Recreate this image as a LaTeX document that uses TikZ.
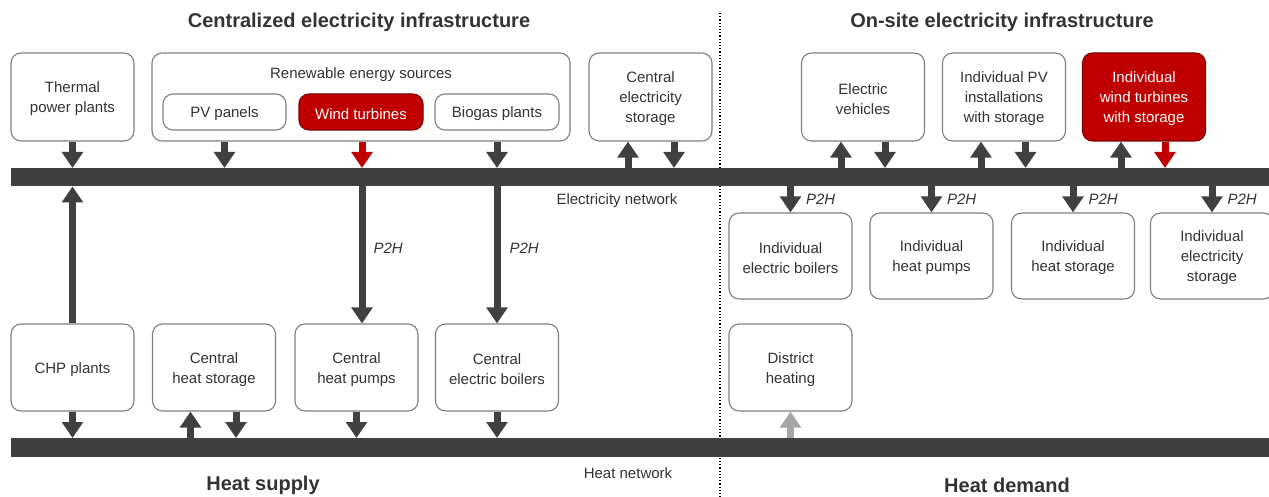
\documentclass[tikz,border=0pt]{standalone}
\usepackage{fontspec}
\setmainfont{Liberation Sans}
\usetikzlibrary{arrows.meta}
\definecolor{dk}{HTML}{404040}
\definecolor{txt}{HTML}{333333}
\definecolor{boxgray}{HTML}{7F7F7F}
\definecolor{redfill}{HTML}{C00000}
\definecolor{redline}{HTML}{7F0000}
\definecolor{lightarr}{HTML}{A6A6A6}
\tikzset{
  box/.style={draw=boxgray, line width=1.1pt, rounded corners=10pt, fill=white,
    minimum width=123pt, minimum height=88pt, inner sep=0pt},
  boxtext/.style={align=center, text=txt, inner sep=0pt, yshift=-2pt,
    font=\fontsize{15}{20}\selectfont},
  btxt/.style={label={[boxtext]center:{#1}}},
  wtxt/.style={label={[boxtext, text=white]center:{#1}}},
  smallbox/.style={box, minimum height=36pt, minimum width=124pt},
  redbox/.style={fill=redfill, draw=redline},
  netbar/.style={fill=dk, draw=none, inner sep=0pt, minimum height=18pt,
    minimum width=1258pt, anchor=north west},
  arr/.style={line width=7pt, draw=dk, -{Triangle[width=20.5pt,length=16pt]}},
  redarr/.style={arr, draw=redfill},
  greyarr/.style={arr, draw=lightarr},
  title/.style={font=\bfseries\fontsize{20}{24}\selectfont, text=txt},
  lbl/.style={font=\fontsize{15}{18}\selectfont, text=txt},
  ptwoh/.style={font=\itshape\fontsize{15}{18}\selectfont, text=txt, anchor=west, inner sep=0pt}
}
\begin{document}
\begin{tikzpicture}[x=1pt,y=-1pt]
\useasboundingbox (0,0) rectangle (1269,497);

% section titles and divider
\node[title] (tcent) at (359,22.5) {Centralized electricity infrastructure};
\node[title] (tsite) at (1002,22.5) {On-site electricity infrastructure};
\node[title] (tsup) at (263,485.5) {Heat supply};
\node[title] (tdem) at (1007,485.5) {Heat demand};
\coordinate (divtop) at (720,13);
\coordinate (divbot) at (720,497);
\draw[black, dotted, line width=1.2pt] (divtop) -- (divbot);

% networks
\node[netbar] (ebar) at (11,168) {};
\node[netbar, minimum height=19pt] (hbar) at (11,438) {};
\node[lbl] (elbl) at (617,200.5) {Electricity network};
\node[lbl] (hlbl) at (628,473.5) {Heat network};

% centralized generation and storage
\node[box, btxt={Thermal\\power plants}] (thermal) at (72.5,97) {};
\node[box, minimum width=418pt] (ren) at (361,97) {};
\node[lbl] (renlbl) at (361,75) {Renewable energy sources};
\node[smallbox, minimum width=123pt, btxt={PV panels}] (pv) at (224.5,112) {};
\node[smallbox, redbox, wtxt={Wind turbines}] (wind) at (361,112) {};
\node[smallbox, btxt={Biogas plants}] (biogas) at (497,112) {};
\node[box, btxt={Central\\electricity\\storage}] (cstore) at (650.5,97) {};

% on-site generation and storage
\node[box, btxt={Electric\\vehicles}] (ev) at (863,97) {};
\node[box, btxt={Individual PV\\installations\\with storage}] (ipv) at (1004,97) {};
\node[box, redbox, wtxt={Individual\\wind turbines\\with storage}] (iwind) at (1144,97) {};

% on-site consumers
\node[box, minimum height=86pt, btxt={Individual\\electric boilers}] (ieboil) at (790.5,256) {};
\node[box, minimum height=86pt, btxt={Individual\\heat pumps}] (ihp) at (931.5,256) {};
\node[box, minimum height=86pt, btxt={Individual\\heat storage}] (ihs) at (1073,256) {};
\node[box, minimum height=86pt, btxt={Individual\\electricity\\storage}] (ies) at (1212,256) {};

% heat supply units
\node[box, minimum height=87pt, btxt={CHP plants}] (chp) at (72.5,367.5) {};
\node[box, minimum height=87pt, btxt={Central\\heat storage}] (hstore) at (214,367.5) {};
\node[box, minimum height=87pt, btxt={Central\\heat pumps}] (hpump) at (356.5,367.5) {};
\node[box, minimum height=87pt, btxt={Central\\electric boilers}] (eboil) at (497,367.5) {};
\node[box, minimum height=87pt, btxt={District\\heating}] (dheat) at (790.5,367.5) {};

% feed-in to the electricity network
\draw[arr] (thermal.south) -- (thermal.south |- ebar.north);
\draw[arr] (pv.south |- ren.south) -- (pv.south |- ebar.north);
\draw[redarr] ([xshift=1pt]wind.south |- ren.south) -- ([xshift=1pt]wind.south |- ebar.north);
\draw[arr] (biogas.south |- ren.south) -- (biogas.south |- ebar.north);
\draw[arr] ([xshift=-22.5pt]cstore.south |- ebar.north) -- ([xshift=-22.5pt]cstore.south);
\draw[arr] ([xshift=23.5pt]cstore.south) -- ([xshift=23.5pt]cstore.south |- ebar.north);
\draw[arr] ([xshift=-22pt]ev.south |- ebar.north) -- ([xshift=-22pt]ev.south);
\draw[arr] ([xshift=22pt]ev.south) -- ([xshift=22pt]ev.south |- ebar.north);
\draw[arr] ([xshift=-23pt]ipv.south |- ebar.north) -- ([xshift=-23pt]ipv.south);
\draw[arr] ([xshift=21.5pt]ipv.south) -- ([xshift=21.5pt]ipv.south |- ebar.north);
\draw[arr] ([xshift=-23pt]iwind.south |- ebar.north) -- ([xshift=-23pt]iwind.south);
\draw[redarr] ([xshift=21pt]iwind.south) -- ([xshift=21pt]iwind.south |- ebar.north);

% CHP and power-to-heat links
\draw[arr] (chp.north) -- (chp.north |- ebar.south);
\draw[arr] ([xshift=1pt]wind.south |- ebar.south) -- ([xshift=1pt]wind.south |- hpump.north)
  node[ptwoh, pos=0.45, xshift=8pt] (p2ha) {P2H};
\draw[arr] (biogas.south |- ebar.south) -- (biogas.south |- eboil.north)
  node[ptwoh, pos=0.45, xshift=9pt] (p2hb) {P2H};
\foreach \n in {ieboil,ihp,ihs,ies}{
  \draw[arr] (\n.north |- ebar.south) -- (\n.north)
    node[ptwoh, pos=0.5, xshift=12pt] {P2H};
}

% heat network links
\draw[arr] (chp.south) -- (chp.south |- hbar.north);
\draw[arr] ([xshift=-23.5pt]hstore.south |- hbar.north) -- ([xshift=-23.5pt]hstore.south);
\draw[arr] ([xshift=22pt]hstore.south) -- ([xshift=22pt]hstore.south |- hbar.north);
\draw[arr] (hpump.south) -- (hpump.south |- hbar.north);
\draw[arr] (eboil.south) -- (eboil.south |- hbar.north);
\draw[greyarr] (dheat.south |- hbar.north) -- (dheat.south);
\end{tikzpicture}
\end{document}
